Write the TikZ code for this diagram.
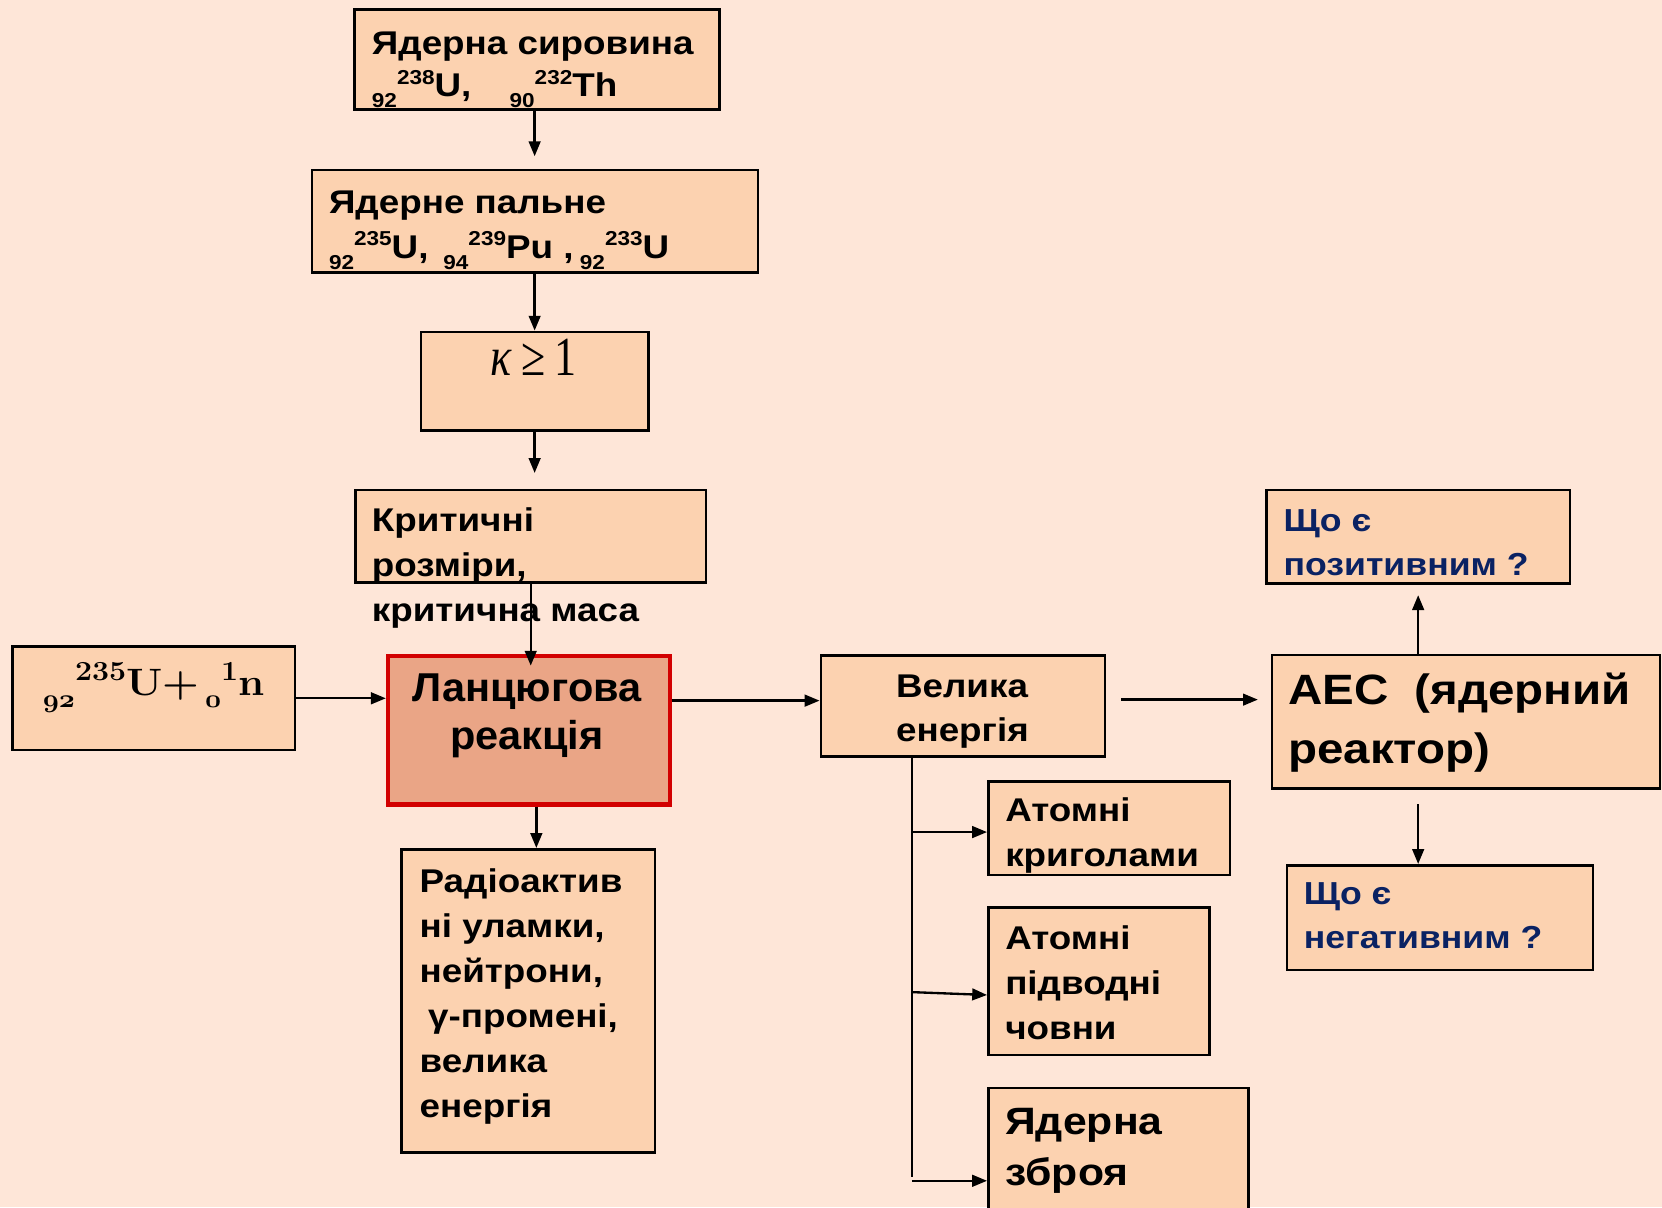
\documentclass[tikz,border=0pt]{standalone}
\usepackage{fontspec}
\usepackage{graphicx}
\usetikzlibrary{arrows.meta}
\newfontfamily\ar{Liberation Sans}[FakeStretch=1.12]
\newfontfamily\arc{Liberation Sans}[FakeStretch=1.03]
\newfontfamily\lser{Liberation Serif}[FakeStretch=0.8]
\definecolor{bgc}{HTML}{FEE6D8}
\definecolor{boxc}{HTML}{FCD2B0}
\definecolor{chainc}{HTML}{EAA586}
\definecolor{redc}{HTML}{D20000}
\definecolor{navy}{HTML}{0A2263}
\newcommand\osd[1]{\mathchar"013#1\relax}
\newcommand\nsub[1]{\raisebox{-5pt}{\fontsize{9.5}{10}\selectfont #1}}
\newcommand\nsup[1]{\raisebox{6pt}{\fontsize{9.5}{10}\selectfont #1}}
\begin{document}
\begin{tikzpicture}[x=0.5pt,y=-0.5pt,
  box/.style={draw=black,line width=1.2pt,fill=boxc,inner sep=0pt,anchor=north west},
  lbl/.style={anchor=base west,inner sep=0pt,align=left,font=\ar\bfseries\fontsize{15.5}{21.25}\selectfont},
  arr/.style={line width=1.1pt,-{Triangle[length=7pt,width=5.5pt]}},
  ln/.style={line width=1.1pt}]
\fill[bgc] (0,0) rectangle (1568,1139);
\useasboundingbox (0,0) rectangle (1568,1139);
% boxes
\node[box,minimum width=172pt,minimum height=47pt] (raw) at (333.5,8) {};
\node[box,minimum width=210.5pt,minimum height=48.2pt] (fuel) at (293,159.4) {};
\node[box,minimum width=107.3pt,minimum height=46.6pt] (kap) at (395.9,311.9) {};
\node[box,minimum width=165.3pt,minimum height=43.6pt] (crit) at (334.2,461.2) {};
\node[box,minimum width=133.2pt,minimum height=48.8pt] (un) at (10.5,608.8) {};
\node[box,draw=redc,line width=2pt,fill=chainc,minimum width=133pt,minimum height=70pt] (chain) at (364,617) {};
\node[box,minimum width=119.6pt,minimum height=143.1pt] (radio) at (377.6,800) {};
\node[box,minimum width=134.05pt,minimum height=47.85pt] (energy) at (773.2,617) {};
\node[box,minimum width=114pt,minimum height=44.1pt] (ice) at (931.2,735.9) {};
\node[box,minimum width=104.25pt,minimum height=69.4pt] (sub) at (931.2,855.2) {};
\node[box,minimum width=122.65pt,minimum height=62pt] (weapon) at (931.2,1025.4) {};
\node[box,minimum width=183.05pt,minimum height=62.8pt] (npp) at (1198.7,616.9) {};
\node[box,minimum width=143.05pt,minimum height=44.1pt] (pos) at (1193.7,460.9) {};
\node[box,minimum width=144.5pt,minimum height=49.35pt] (neg) at (1212.8,815.1) {};
% texts (anchor = baseline of the last line)
\node[lbl,font=\ar\bfseries\fontsize{15.5}{20}\selectfont] (rawt) at (350.5,91.3)
  {Ядерна сировина\\\nsub{92}\nsup{238}U,\hspace{18pt}\nsub{90}\nsup{232}Th};
\node[lbl] (fuelt) at (310,243.8)
  {Ядерне пальне\\\nsub{92}\nsup{235}U,\hspace{7pt}\nsub{94}\nsup{239}Pu ,\hspace{3pt}\nsub{92}\nsup{233}U};
\node[anchor=base,inner sep=0pt,font=\lser\fontsize{26}{30}\selectfont] (kapt) at (503.5,354.7)
  {{\itshape κ}\,≥\,1};
\node[lbl] (critt) at (350.5,586.6) {Критичні\\розміри,\\критична маса};
\node[anchor=base west,inner sep=0pt,font=\bfseries\fontsize{18}{22}\selectfont] (unt) at (40,655.7)
  {\scalebox{1.1}[1]{\raisebox{-6pt}{\fontsize{13}{13}\selectfont\boldmath$\osd9\osd2$}\raisebox{7pt}{\fontsize{13}{13}\selectfont 235}U+\hspace{2.5pt}\raisebox{-6pt}{\fontsize{13}{13}\selectfont\boldmath$\osd0$}\raisebox{7pt}{\fontsize{13}{13}\selectfont 1}n}};
\node[anchor=base,inner sep=0pt,align=center,font=\arc\bfseries\fontsize{19}{22.75}\selectfont] (chaint) at (497,707.5)
  {Ланцюгова\\реакція};
\node[lbl] (radiot) at (395.5,1054.5)
  {Радіоактив\\ні уламки,\\нейтрони,\\\hspace*{4pt}γ-промені,\\велика\\енергія};
\node[lbl,font=\ar\bfseries\fontsize{15.5}{20.5}\selectfont] (energyt) at (845,699.5) {Велика\\енергія};
\node[lbl] (icet) at (948,817.1) {Атомні\\криголами};
\node[lbl] (subt) at (948,981) {Атомні\\підводні\\човни};
\node[lbl,font=\ar\bfseries\fontsize{18}{24}\selectfont] (weapont) at (948,1118) {Ядерна\\зброя};
\node[lbl,font=\ar\bfseries\fontsize{20}{27.5}\selectfont] (nppt) at (1215,720) {АЕС\ \ (ядерний\\реактор)};
\node[lbl,text=navy,font=\ar\bfseries\fontsize{15}{20.5}\selectfont] (post) at (1210.6,542.6) {Що є\\позитивним ?};
\node[lbl,text=navy,font=\ar\bfseries\fontsize{15}{20.5}\selectfont] (negt) at (1229.6,894.8) {Що є\\негативним ?};
% connectors
\draw[arr,shorten >=6pt] (raw.south -| kap.north) -- (fuel.north -| kap.north);
\draw[arr] (fuel.south -| kap.north) -- (kap.north);
\draw[arr,shorten >=7.5pt] (kap.south) -- (crit.north -| kap.south);
\draw[arr,shorten >=-5.5pt] (crit.south) -- (crit.south |- chain.north);
\draw[arr] (un.east) -- (un.east -| chain.west);
\coordinate (c1) at ([yshift=14pt]chain.east);
\draw[arr] (c1) -- (c1 -| energy.west);
\coordinate (c2) at ([xshift=3.5pt]chain.south);
\draw[arr] (c2) -- (c2 |- radio.north);
\coordinate (e1) at ([yshift=3pt]energy.east);
\draw[arr,shorten <=7pt,shorten >=6pt] (e1) -- (e1 -| npp.west);
\draw[arr,shorten >=5pt] (npp.north -| pos.south) -- (pos.south);
\draw[arr,shorten <=7pt] (npp.south -| pos.south) -- (neg.north -| pos.south);
\coordinate (t0) at ([xshift=43.5pt]energy.south west);
\coordinate (b1) at (t0 |- 0,785);
\coordinate (b2) at (t0 |- 0,936);
\coordinate (b3) at (t0 |- 0,1114);
\draw[ln] (t0) -- (t0 |- 0,1110);
\draw[arr] (b1) -- (b1 -| ice.west);
\draw[arr] (b2) -- (sub.west |- 0,938.7);
\draw[arr] (b3) -- (b3 -| weapon.west);
\end{tikzpicture}
\end{document}
